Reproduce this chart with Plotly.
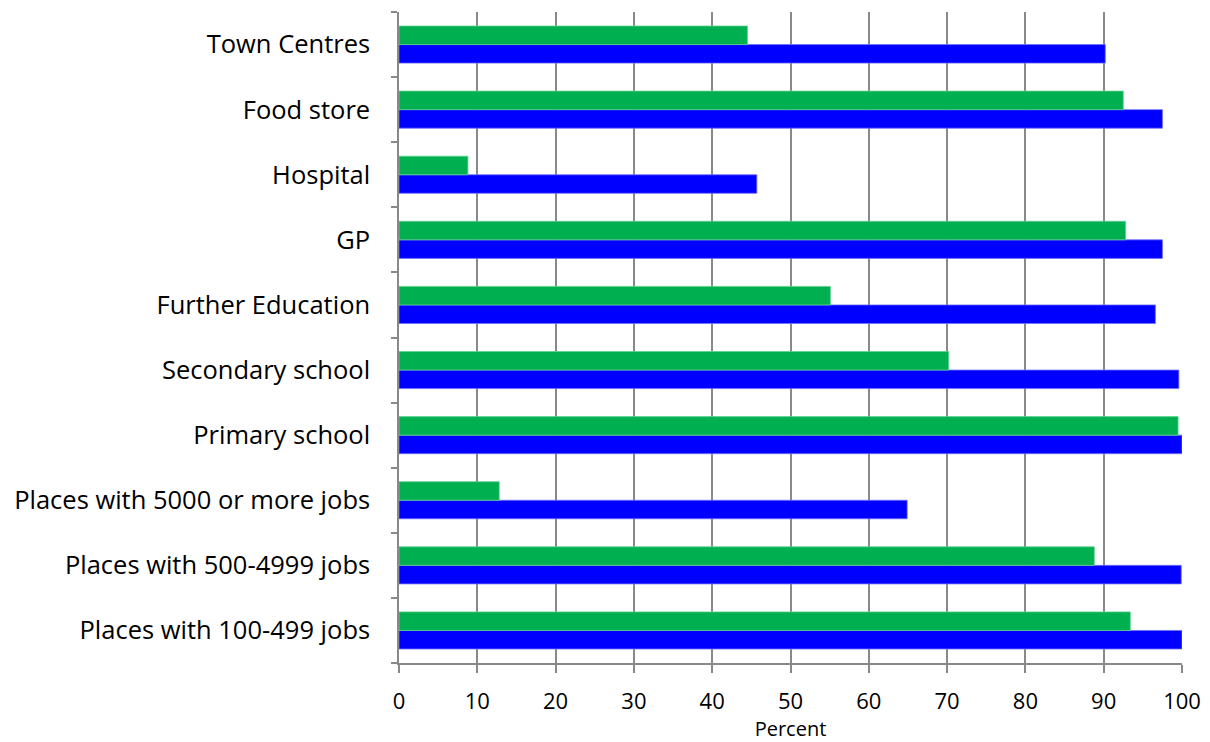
import plotly.graph_objects as go

CATEGORIES = ["Places with 100-499 jobs", "Places with 500-4999 jobs", "Places with 5000 or more jobs",
              "Primary school", "Secondary school", "Further Education", "GP", "Hospital",
              "Food store", "Town Centres"]
BLUE_VALUES = [100, 99.9, 64.9, 100, 99.6, 96.6, 97.5, 45.7, 97.5, 90.2]
GREEN_VALUES = [93.4, 88.8, 12.8, 99.5, 70.2, 55.1, 92.8, 8.8, 92.5, 44.5]
X_TICKS = [0, 10, 20, 30, 40, 50, 60, 70, 80, 90, 100]

fig = go.Figure()
fig.add_trace(go.Bar(y=CATEGORIES, x=BLUE_VALUES, orientation="h", marker_color="#0000FF",
                     marker_line=dict(color="#6f6fff", width=0.8), name="blue"))
fig.add_trace(go.Bar(y=CATEGORIES, x=GREEN_VALUES, orientation="h", marker_color="#00B050",
                     marker_line=dict(color="#5fd08f", width=0.8), name="green"))

# page body has an 8px margin, so the figure is a bit smaller than the window
fig.update_layout(
    width=1202, height=734,
    barmode="group", bargap=0.43, bargroupgap=0,
    showlegend=False,
    plot_bgcolor="white", paper_bgcolor="white",
    margin=dict(l=391, r=28, t=4, b=79),
    font=dict(family="Open Sans", color="#000000"),
)
fig.update_xaxes(
    range=[0, 100], tickvals=X_TICKS, ticks="outside", ticklen=8, tickwidth=1.5, tickcolor="#898989",
    showgrid=True, gridcolor="#898989", gridwidth=1.5, zeroline=False,
    showline=True, linecolor="#898989", linewidth=1.5,
    tickfont=dict(size=22), ticklabelstandoff=10,
    title=dict(text="Percent", font=dict(size=20), standoff=5),
)
fig.update_yaxes(
    categoryorder="array", categoryarray=CATEGORIES,
    ticks="outside", tickson="boundaries", ticklen=6, tickwidth=1.5, tickcolor="#898989",
    showline=True, linecolor="#898989", linewidth=1.5, showgrid=False,
    tickfont=dict(size=25.5), ticklabelstandoff=22, automargin=False,
)

fig.write_html("out.html")
